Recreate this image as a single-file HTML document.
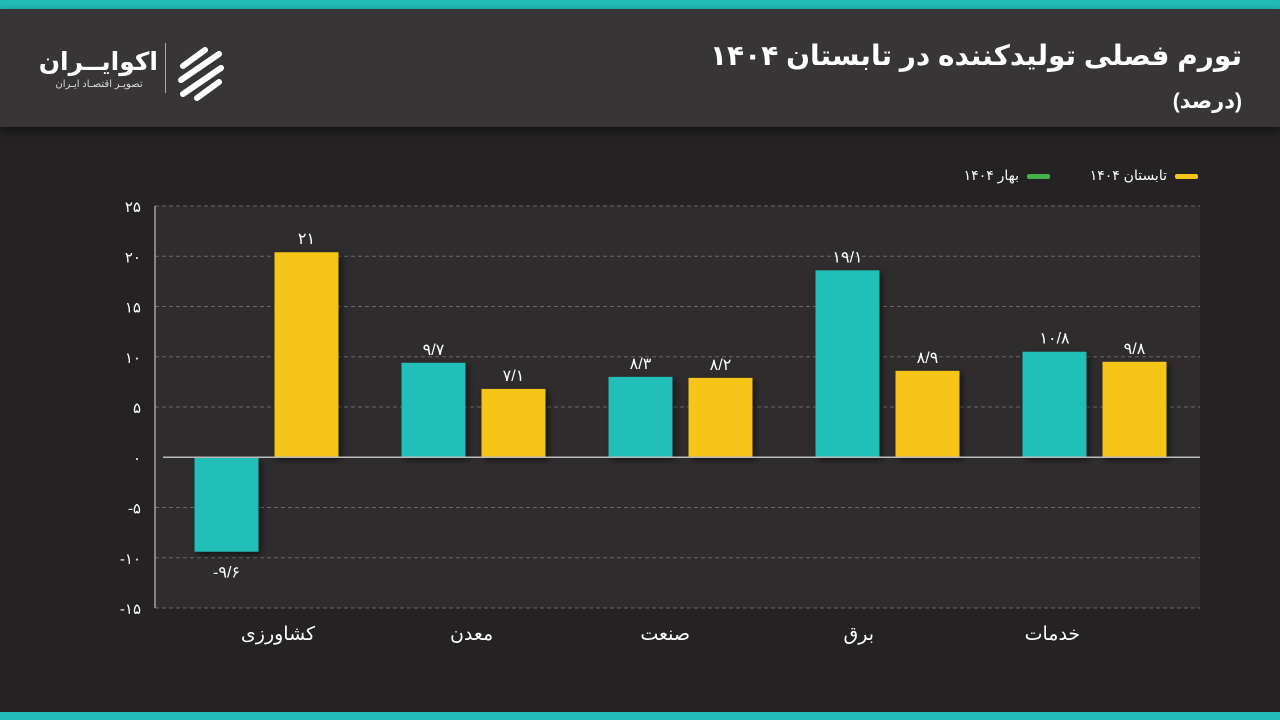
<!DOCTYPE html>
<html><head><meta charset="utf-8"><style>
body{margin:0;width:1280px;height:720px;background:#242222;overflow:hidden;font-family:"Liberation Sans","Noto Sans CJK SC","DejaVu Sans",sans-serif;color:#fff}
.top{position:absolute;left:0;top:0;width:1280px;height:9px;background:#22bdb8}
.bot{position:absolute;left:0;top:712px;width:1280px;height:8px;background:#22bdb8}
.hdr{position:absolute;left:0;top:9px;width:1280px;height:118px;background:#373535;box-shadow:0 4px 10px rgba(0,0,0,.5)}
.title{position:absolute;right:38px;top:30px;font-size:28px;font-weight:bold;direction:rtl}
.sub{position:absolute;right:38px;top:80px;font-size:21px;font-weight:bold;direction:rtl}
.logo{position:absolute;left:40px;top:38px;direction:rtl;text-align:center;width:118px}
</style></head><body>
<div class="top"></div>
<div class="hdr">
<div class="title">تورم فصلی تولیدکننده در تابستان ۱۴۰۴</div>
<div class="sub">(درصد)</div>
<div class="logo"><div style="font-size:25px;font-weight:bold;line-height:30px">اکوایــران</div><div style="font-size:10px;color:#ddd;margin-top:2px">تصویـر اقتصـاد ایـران</div></div>
<div style="position:absolute;left:165px;top:34px;width:1px;height:50px;background:#aaa"></div>
<svg style="position:absolute;left:175px;top:35px" width="52" height="60"><g fill="none" stroke="#fff" stroke-width="6" stroke-linecap="round"><path d="M8 22 L30 6 M6 36 L44 10 M8 50 L46 24 M22 54 L44 38"/></g></svg>
</div>
<div class="bot"></div>
<svg id="chart" width="1280" height="720" style="position:absolute;left:0;top:0"></svg>
<script>
const categories=["کشاورزی","معدن","صنعت","برق","خدمات"];
const springValues=[-9.4,9.4,8.0,18.6,10.5];
const summerValues=[20.4,6.8,7.9,8.6,9.5];
const springLabels=["-۹/۶","۹/۷","۸/۳","۱۹/۱","۱۰/۸"];
const summerLabels=["۲۱","۷/۱","۸/۲","۸/۹","۹/۸"];
const ticks=[25,20,15,10,5,0,-5,-10,-15];
const tickLabels=["۲۵","۲۰","۱۵","۱۰","۵","۰","-۵","-۱۰","-۱۵"];
const NS="http://www.w3.org/2000/svg",svg=document.getElementById('chart');
const x0=155,x1=1200,y25=206,pxU=10.05;
const y=v=>y25+(25-v)*pxU;
const bandStart=163,band=207;
function mk(t,a,txt){const e=document.createElementNS(NS,t);for(const k in a)e.setAttribute(k,a[k]);if(txt!==undefined)e.textContent=txt;svg.appendChild(e);return e;}
let bg=mk('rect',{x:x0,y:y(25),width:x1-x0,height:y(-15)-y(25),fill:'#2e2c2c'});


ticks.forEach((t,i)=>{
 if(t!==0){let g=mk('line',{x1:x0,x2:x1,y1:y(t),y2:y(t),stroke:'#6a6868','stroke-dasharray':'4,3','stroke-width':1});
 
 }
 let l=mk('text',{x:141,y:y(t)+6,'text-anchor':'end','font-size':15,fill:'#fff'},tickLabels[i]);
 
 
});
let ax=mk('line',{x1:x0,x2:x0,y1:y(25),y2:y(-15),stroke:'#ddd','stroke-width':1});


const bw=64;
categories.forEach((c,i)=>{
 const cx=bandStart+band*i+band/2;
 [[springValues[i],springLabels[i],'#22bfb9',cx-40,'bar-spring'],[summerValues[i],summerLabels[i],'#f5c518',cx+40,'bar-summer']].forEach(([v,lab,col,bx,nm])=>{
  const top=Math.min(y(v),y(0)),h=Math.abs(y(v)-y(0));
  let r=mk('rect',{x:bx-bw/2,y:top,width:bw,height:h,fill:col,style:'filter:drop-shadow(3px 3px 3px rgba(0,0,0,.5))'});
  
  
  let ty=v>=0?y(v)-8:y(v)+26;
  let t=mk('text',{x:bx,y:ty,'text-anchor':'middle','font-size':16,fill:'#fff'},lab);
  
  
 });
 let cl=mk('text',{x:278+i*193.6,y:640,'text-anchor':'middle','font-size':19,fill:'#fff'},c);
 
 
});
let z=mk('line',{x1:163,x2:x1,y1:y(0),y2:y(0),stroke:'#bbb','stroke-width':1.5});


const legend=[["تابستان ۱۴۰۴",'#f5c518',1175,1167],["بهار ۱۴۰۴",'#43b04a',1027,1019]];
legend.forEach(([t,c,sx,tx])=>{
 let s=mk('rect',{x:sx,y:174,width:23,height:5,rx:2,fill:c});
 
 
 let l=mk('text',{x:tx,y:180,'text-anchor':'start','font-size':14,fill:'#fff',direction:'rtl'},t);
 
 
});
</script>
</body></html>
